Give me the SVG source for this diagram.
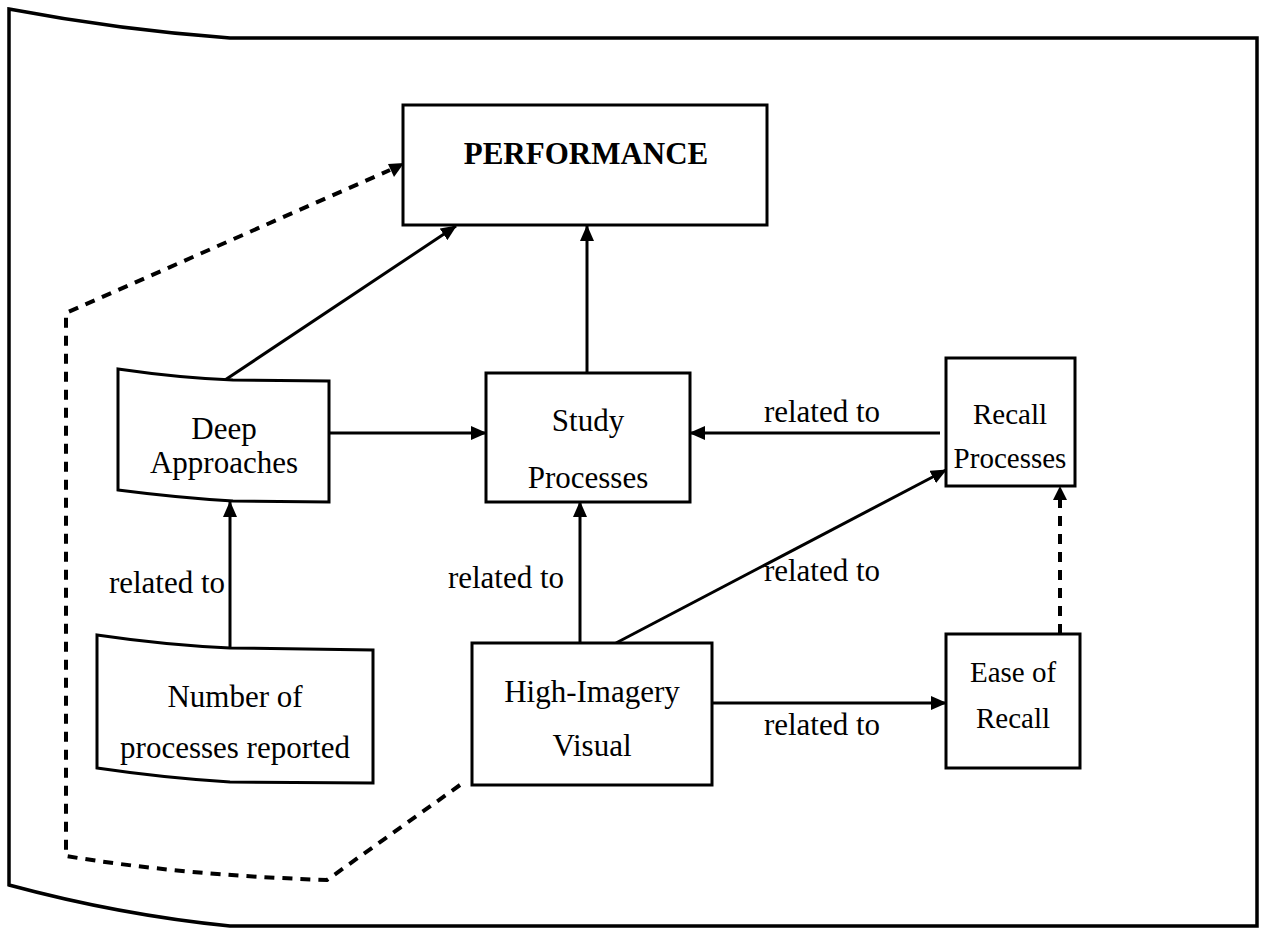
<svg xmlns="http://www.w3.org/2000/svg" width="1261" height="929" viewBox="0 0 1261 929">
<defs>
<marker id="ah" markerUnits="userSpaceOnUse" markerWidth="16" markerHeight="14" viewBox="0 0 16 14" refX="15" refY="7" orient="auto">
<path d="M0,0 L16,7 L0,14 Z" fill="#000"/>
</marker>
</defs>
<style>
.box{fill:#fff;stroke:#000;stroke-width:3}
.t{font-family:"Liberation Serif","Times New Roman",serif;font-size:31px;fill:#000;text-anchor:middle}
.b{font-weight:bold;font-size:31px}
.s{font-size:29px}
.c{fill:none;stroke:#000;stroke-width:3}
.d{fill:none;stroke:#000;stroke-width:4;stroke-dasharray:10 8}
.frame{fill:none;stroke:#000;stroke-width:3.5}
</style>
<rect width="1261" height="929" fill="#fff"/>
<path class="frame" d="M9,9 Q120,30 230,38 L1257,38 L1257,926 L230,926 Q120,915 9,885 Z"/>
<g id="connectors">
<line class="c" x1="587" y1="373" x2="587" y2="226" marker-end="url(#ah)"/>
<line class="c" x1="225" y1="380" x2="456" y2="226" marker-end="url(#ah)"/>
<line class="c" x1="329" y1="433" x2="486" y2="433" marker-end="url(#ah)"/>
<line class="c" x1="940" y1="433" x2="690" y2="433" marker-end="url(#ah)"/>
<line class="c" x1="230" y1="648" x2="230" y2="502" marker-end="url(#ah)"/>
<line class="c" x1="580" y1="643" x2="580" y2="502" marker-end="url(#ah)"/>
<line class="c" x1="616" y1="643" x2="946" y2="470" marker-end="url(#ah)"/>
<line class="c" x1="712" y1="703" x2="946" y2="703" marker-end="url(#ah)"/>
<line class="d" x1="1060" y1="634" x2="1060" y2="490"/>
<path d="M1053,500 L1060,486 L1067,500 Z" fill="#000"/>
<path class="d" d="M460,785 L327,880 Q180,875 66,856 L66,313 L390,170"/>
<path d="M388,164 L404,163 L394,177 Z" fill="#000"/>
<text class="t" x="822" y="422">related to</text>
<text class="t" x="167" y="593">related to</text>
<text class="t" x="506" y="588">related to</text>
<text class="t" x="822" y="581">related to</text>
<text class="t" x="822" y="735">related to</text>
</g>
<g id="performance">
<rect class="box" x="403" y="105" width="364" height="120"/>
<text class="t b" x="586" y="164">PERFORMANCE</text>
</g>
<g id="deep-approaches">
<path class="box" d="M118,369 Q180,378 233,380 L329,381 L329,502 L233,501 Q180,498 118,490 Z"/>
<text class="t" x="224" y="439">Deep</text>
<text class="t" x="224" y="473">Approaches</text>
</g>
<g id="study-processes">
<rect class="box" x="486" y="373" width="204" height="129"/>
<text class="t" x="588" y="431">Study</text>
<text class="t" x="588" y="488">Processes</text>
</g>
<g id="recall-processes">
<rect class="box" x="946" y="358" width="129" height="128"/>
<text class="t s" x="1010" y="424">Recall</text>
<text class="t s" x="1010" y="468">Processes</text>
</g>
<g id="number-of-processes">
<path class="box" d="M97,635 Q165,645 230,648 L373,650 L373,783 L230,782 Q165,778 97,768 Z"/>
<text class="t" x="235" y="707">Number of</text>
<text class="t" x="235" y="758">processes reported</text>
</g>
<g id="high-imagery">
<rect class="box" x="472" y="643" width="240" height="142"/>
<text class="t" x="592" y="702">High-Imagery</text>
<text class="t" x="592" y="756">Visual</text>
</g>
<g id="ease-of-recall">
<rect class="box" x="946" y="634" width="134" height="134"/>
<text class="t s" x="1013" y="682">Ease of</text>
<text class="t s" x="1013" y="728">Recall</text>
</g>
</svg>
